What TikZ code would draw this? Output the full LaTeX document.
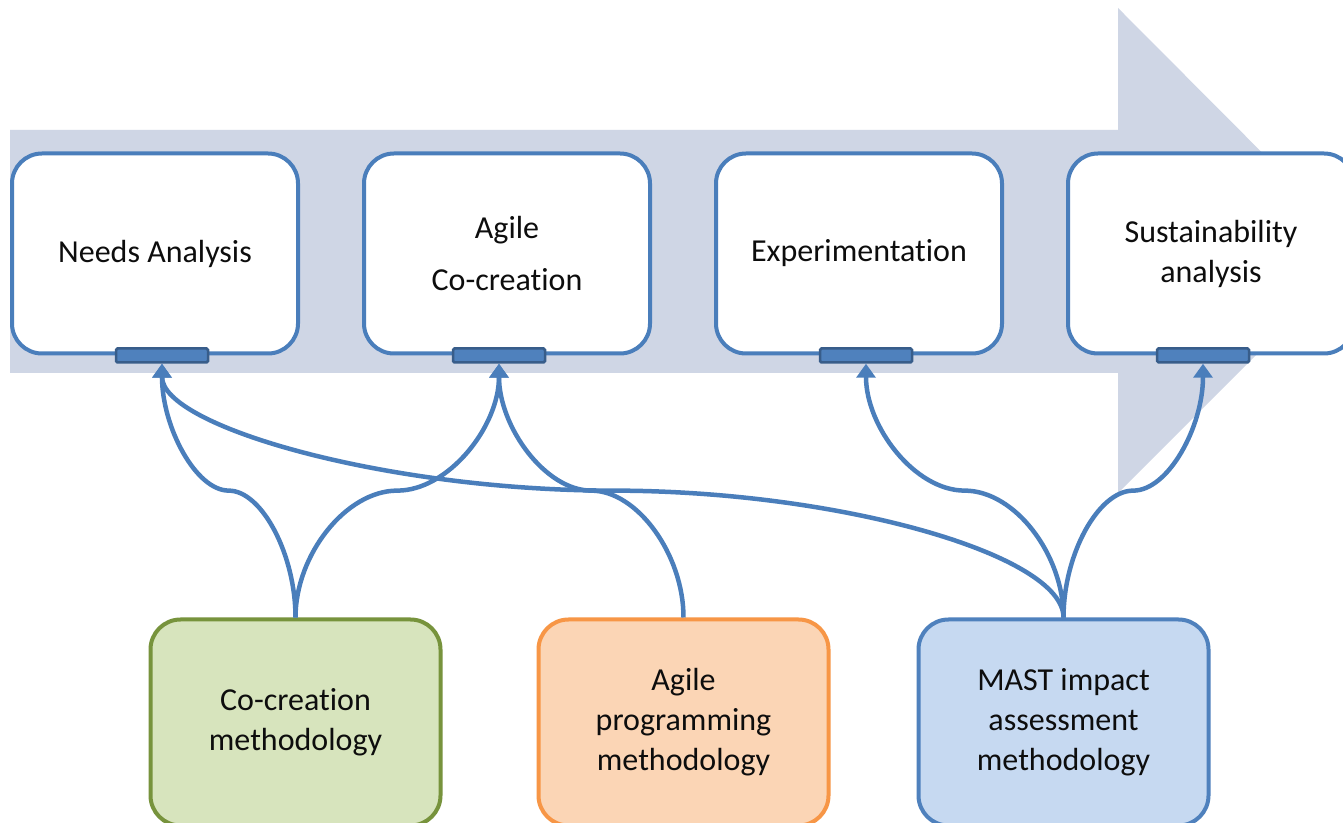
\documentclass[tikz,border=0pt]{standalone}
\usepackage{fontspec}
\setmainfont{Carlito}[Ligatures=NoCommon]
\usetikzlibrary{arrows.meta, positioning, calc}
\definecolor{flowgrey}{RGB}{207,214,229}
\definecolor{stageblue}{RGB}{74,126,187}
\definecolor{tabblue}{RGB}{79,129,189}
\definecolor{tabdark}{RGB}{56,93,138}
\definecolor{linkblue}{RGB}{74,126,187}
\definecolor{greenfill}{RGB}{215,228,189}
\definecolor{greenline}{RGB}{119,147,60}
\definecolor{orangefill}{RGB}{251,213,181}
\definecolor{orangeline}{RGB}{247,150,70}
\definecolor{bluefill}{RGB}{198,217,241}
\definecolor{blueline}{RGB}{79,129,189}
\tikzset{
  boxtext/.style = {align=center, text=black!95, font=\fontsize{32}{40}\selectfont},
  stage/.style = {boxtext, draw=stageblue, fill=white, line width=4pt,
    rounded corners=30pt, minimum width=286pt, minimum height=200pt, inner sep=0pt},
  tab/.style = {draw=tabdark, fill=tabblue, line width=2.5pt, rounded corners=1.5pt,
    minimum width=92pt, minimum height=14pt, inner sep=0pt},
  method/.style = {boxtext, line width=4pt, rounded corners=30pt,
    minimum width=290pt, minimum height=206pt, inner sep=0pt},
  link/.style = {draw=linkblue, line width=4.5pt, -{Triangle[width=19pt,length=14pt]}},
}
\begin{document}
\begin{tikzpicture}[x=1pt, y=1pt]
\useasboundingbox (0,0) rectangle (1343,822);
\clip (0,0) rectangle (1343,822);
\fill [white] (0,0) rectangle (1343,822);

% process arrow
\fill [flowgrey] (10,449) -- (1118,449) -- (1118,329) -- (1360,571)
  -- (1118,814) -- (1118,692) -- (10,692) -- cycle;

% stages
\node [stage] (needs) at (155,568.5) {Needs Analysis};
\node [stage, right=62pt of needs] (cocr) {Agile\\[12pt]Co-creation};
\node [stage, right=62pt of cocr] (exper) {Experimentation};
\node [stage, right=62pt of exper] (sust) {Sustainability\\analysis};

\node [tab] (needs-tab) at ($(needs.south)+(7,0)$) {};
\node [tab] (cocr-tab) at ($(cocr.south)+(-8,0)$) {};
\node [tab] (exper-tab) at ($(exper.south)+(7,0)$) {};
\node [tab] (sust-tab) at ($(sust.south)+(-8,0)$) {};

% methodologies
\node [method, draw=greenline, fill=greenfill] (cocrm) at (295.5,99.5) {Co-creation\\methodology};
\node [method, draw=orangeline, fill=orangefill, right=94pt of cocrm] (agilem) {Agile\\programming\\methodology};
\node [method, draw=blueline, fill=bluefill, right=86pt of agilem] (mastm) {MAST impact\\assessment\\methodology};

% links
\draw [link] (cocrm.north) to [out=90, in=0, out distance=63pt, in distance=33pt]
  ($(cocrm.north)!.5!(needs-tab.south)$) to [out=180, in=-90, out distance=33pt, in distance=63pt] (needs-tab.south);
\draw [link] (cocrm.north) to [out=90, in=180, out distance=63pt, in distance=51pt]
  ($(cocrm.north)!.5!(cocr-tab.south)$) to [out=0, in=-90, out distance=51pt, in distance=63pt] (cocr-tab.south);
\draw [link] (agilem.north) to [out=90, in=0, out distance=63pt, in distance=46pt]
  ($(agilem.north)!.5!(cocr-tab.south)$) to [out=180, in=-90, out distance=46pt, in distance=63pt] (cocr-tab.south);
\draw [link] (mastm.north) to [out=90, in=0, out distance=63pt, in distance=225pt]
  ($(mastm.north)!.5!(needs-tab.south)$) to [out=180, in=-90, out distance=225pt, in distance=63pt] (needs-tab.south);
\draw [link] (mastm.north) to [out=90, in=0, out distance=63pt, in distance=50pt]
  ($(mastm.north)!.5!(exper-tab.south)$) to [out=180, in=-90, out distance=50pt, in distance=63pt] (exper-tab.south);
\draw [link] (mastm.north) to [out=90, in=180, out distance=63pt, in distance=35pt]
  ($(mastm.north)!.5!(sust-tab.south)$) to [out=0, in=-90, out distance=35pt, in distance=63pt] (sust-tab.south);
\end{tikzpicture}
\end{document}
